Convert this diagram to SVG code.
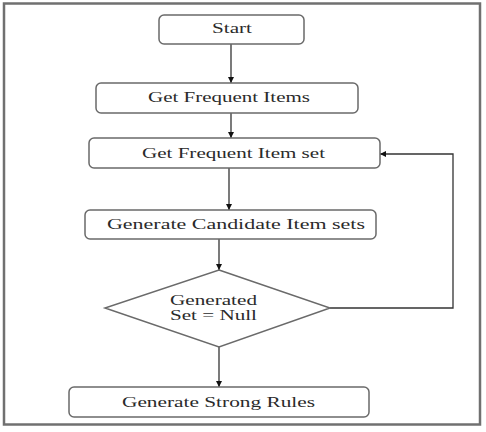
<svg xmlns="http://www.w3.org/2000/svg" width="486" height="432" viewBox="0 0 486 432">
<style>
.box{fill:#fff;stroke:#6a6a6a;stroke-width:1.5}
.t{font-size:14px;fill:#2a2a2a;text-anchor:middle}
.c{fill:none;stroke:#333;stroke-width:1.3}
</style>
<defs>
<marker id="ah" viewBox="0 0 10 10" refX="10" refY="5" markerWidth="6" markerHeight="6" orient="auto" markerUnits="userSpaceOnUse"><path d="M0,0 L10,5 L0,10 z" fill="#111"/></marker>
</defs>
<rect x="0" y="0" width="486" height="432" fill="#fff"/>
<rect x="4" y="3.5" width="476" height="421" fill="none" stroke="#707070" stroke-width="2.5"/>
<g id="connectors">
<line class="c" x1="231" y1="44" x2="231" y2="83" marker-end="url(#ah)"/>
<line class="c" x1="231" y1="113" x2="231" y2="138" marker-end="url(#ah)"/>
<line class="c" x1="229" y1="168" x2="229" y2="210" marker-end="url(#ah)"/>
<line class="c" x1="219" y1="239" x2="219" y2="270" marker-end="url(#ah)"/>
<line class="c" x1="219" y1="347" x2="219" y2="387" marker-end="url(#ah)"/>
<polyline class="c" points="330,308 453,308 453,154 380,154" stroke="#888" marker-end="url(#ah)"/>
</g>
<g font-family="Liberation Serif, Times New Roman, serif">
<g id="start">
<rect class="box" x="159" y="15" width="145" height="29" rx="5"/>
<text class="t" x="232" y="33" textLength="40" lengthAdjust="spacingAndGlyphs">Start</text>
</g>
<g id="get-frequent-items">
<rect class="box" x="96" y="83" width="262" height="30" rx="5"/>
<text class="t" x="229" y="102" textLength="162" lengthAdjust="spacingAndGlyphs">Get Frequent Items</text>
</g>
<g id="get-frequent-item-set">
<rect class="box" x="89" y="138" width="291" height="30" rx="5"/>
<text class="t" x="233.5" y="158" textLength="183" lengthAdjust="spacingAndGlyphs">Get Frequent Item set</text>
</g>
<g id="generate-candidate">
<rect class="box" x="85" y="210" width="291" height="29" rx="5"/>
<text class="t" x="236" y="228.5" textLength="258" lengthAdjust="spacingAndGlyphs">Generate Candidate Item sets</text>
</g>
<g id="decision">
<polygon class="box" points="219,270 330,308 219,347 105,308"/>
<text class="t" x="213.5" y="305" textLength="87" lengthAdjust="spacingAndGlyphs">Generated</text>
<text class="t" x="213.5" y="320" textLength="87" lengthAdjust="spacingAndGlyphs">Set = Null</text>
</g>
<g id="generate-strong-rules">
<rect class="box" x="69" y="387" width="300" height="30" rx="5"/>
<text class="t" x="218.5" y="407" textLength="193" lengthAdjust="spacingAndGlyphs">Generate Strong Rules</text>
</g>
</g>
</svg>
